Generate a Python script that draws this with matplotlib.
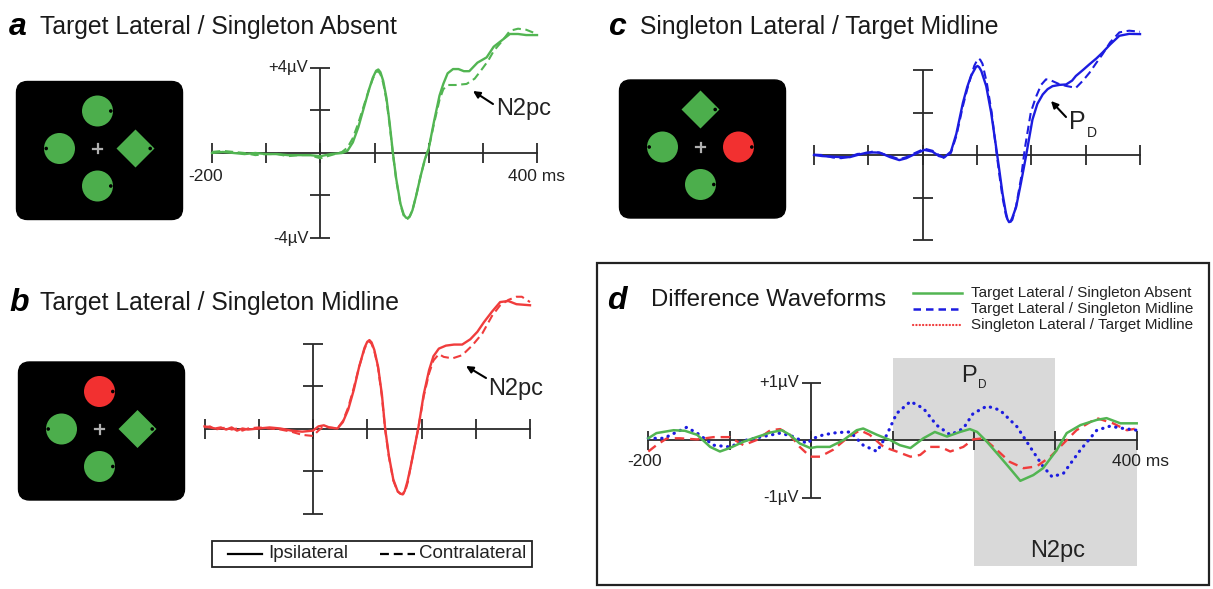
import numpy as np
import matplotlib.pyplot as plt
from matplotlib.patches import Circle, Polygon, FancyBboxPatch, Rectangle

plt.rcParams['font.family'] = ['Liberation Sans', 'DejaVu Sans']

W, H = 1213, 589

# ---- данные: время (мс) и амплитуда (мкВ) ----
# a: Target Lateral / Singleton Absent
t_a_ipsi = [-200, -180, -160, -140, -120, -100, -80, -60, -40, -20, 0, 20, 40, 50, 60, 70, 80, 90, 97, 103, 107,
            111, 116, 122, 128, 134, 140, 148, 154, 158, 161, 165, 170, 177, 185, 193, 200, 210, 220, 227, 235, 245, 255,
            265, 275, 290, 307, 320, 335, 350, 365, 380, 400]
a_ipsi = [0.0, 0.05, 0.0, -0.05, 0.0, -0.05, -0.05, -0.1, -0.1, -0.1, -0.15, -0.05, 0.0, 0.1, 0.5, 1.2, 2.1, 3.0, 3.55, 3.87, 3.93,
          3.8, 3.4, 2.6, 1.4, 0.0, -1.2, -2.4, -2.9, -3.04, -3.07, -2.98, -2.7, -2.0, -1.1, -0.3, 0.2, 1.5, 2.7, 3.25, 3.75, 3.95, 3.95,
          3.85, 3.85, 4.25, 4.5, 5.0, 5.3, 5.6, 5.6, 5.55, 5.55]
t_a_contra = [-200, -180, -160, -140, -120, -100, -80, -60, -40, -20, 0, 20, 40, 50, 60, 70, 80, 90, 97, 103, 107,
              111, 116, 122, 128, 134, 140, 148, 154, 158, 161, 165, 170, 177, 185, 193, 200, 210, 220, 227, 235, 250, 270,
              285, 300, 310, 320, 335, 350, 365, 380, 400]
a_contra = [0.05, 0.1, 0.05, 0.0, -0.1, -0.05, -0.05, -0.15, -0.1, -0.1, -0.25, -0.1, 0.05, 0.25, 0.7, 1.4, 2.2, 3.0, 3.5, 3.8, 3.85,
            3.7, 3.3, 2.5, 1.3, -0.05, -1.25, -2.45, -2.95, -3.08, -3.1, -3.0, -2.7, -2.0, -1.1, -0.3, 0.2, 1.4, 2.5, 3.0, 3.2, 3.2, 3.25,
            3.5, 4.0, 4.35, 4.8, 5.25, 5.75, 5.85, 5.8, 5.6]

# b: Target Lateral / Singleton Midline
t_b_ipsi = [-200, -190, -180, -170, -160, -150, -140, -130, -120, -100, -80, -60, -40, -20, 0, 10, 20, 30, 45, 55,
            65, 75, 85, 95, 100, 104, 108, 113, 120, 127, 133, 140, 148, 156, 161, 165, 169, 174, 180, 187, 194, 204, 214, 222,
            232, 245, 260, 275, 290, 303, 315, 330, 345, 360, 375, 400]
b_ipsi = [0.1, 0.05, 0.0, 0.05, -0.05, 0.05, -0.1, 0.0, -0.05, 0.0, 0.05, 0.0, -0.1, -0.15, -0.1, 0.1, 0.15, 0.05, 0.0, 0.3,
          0.9, 1.8, 2.9, 3.8, 4.08, 4.16, 4.05, 3.7, 2.9, 1.6, 0.0, -1.3, -2.4, -2.95, -3.07, -3.09, -2.95, -2.5, -1.8, -0.9, 0.0, 1.6, 2.75, 3.4,
          3.76, 3.9, 3.95, 3.95, 4.2, 4.55, 5.0, 5.5, 5.95, 6.0, 5.85, 5.8]
t_b_contra = [-200, -190, -180, -170, -160, -150, -140, -130, -120, -100, -80, -60, -40, -20, 0, 10, 20, 30, 45, 55,
              65, 75, 85, 95, 100, 104, 108, 113, 120, 127, 133, 140, 148, 156, 162, 166, 170, 175, 180, 187, 194, 204, 214, 222,
              232, 241, 257, 275, 294, 312, 330, 345, 360, 375, 385, 400]
b_contra = [0.05, 0.1, -0.05, 0.0, 0.05, -0.05, 0.0, -0.1, 0.0, 0.05, 0.0, -0.05, -0.15, -0.3, -0.35, -0.1, 0.1, 0.05, 0.0, 0.35,
            1.0, 1.9, 2.9, 3.75, 4.02, 4.1, 3.98, 3.65, 2.85, 1.5, -0.05, -1.35, -2.45, -2.97, -3.08, -3.1, -2.95, -2.5, -1.8, -0.9, 0.0, 1.5, 2.6, 3.2,
            3.5, 3.37, 3.3, 3.45, 3.92, 4.47, 5.3, 5.8, 6.05, 6.2, 6.2, 5.95]

# c: Singleton Lateral / Target Midline
t_c_ipsi = [-200, -185, -165, -150, -134, -120, -103, -90, -79, -60, -43, -30, -18, -5, 3, 18, 30, 40, 52, 62,
            74, 82, 89, 95, 98, 101, 104, 108, 117, 126, 135, 141, 147, 153, 156, 159, 162, 165, 172, 181, 190, 202, 211, 221,
            230, 239, 252, 264, 275, 282, 295, 307, 320, 331, 345, 362, 380, 400]
c_ipsi = [0.0, -0.05, -0.08, -0.1, -0.1, 0.0, 0.11, 0.12, 0.11, -0.1, -0.24, -0.15, 0.0, 0.15, 0.24, 0.16, -0.05, -0.11, 0.16, 1.0,
          2.45, 3.2, 3.72, 4.0, 4.14, 4.19, 4.13, 3.95, 3.24, 2.0, 0.4, -0.7, -1.82, -2.7, -3.02, -3.16, -3.12, -2.95, -2.45, -1.3, -0.08, 1.66, 2.4, 2.85,
          3.1, 3.24, 3.3, 3.32, 3.5, 3.72, 4.0, 4.27, 4.55, 4.82, 5.2, 5.61, 5.7, 5.69]
t_c_contra = [-200, -185, -165, -150, -134, -120, -103, -90, -79, -60, -43, -30, -18, -5, 3, 18, 30, 40, 52, 62,
              74, 82, 89, 95, 100, 103, 106, 110, 118, 127, 135, 141, 147, 153, 156, 159, 162, 165, 172, 181, 188, 199, 208, 218,
              227, 237, 250, 264, 282, 295, 307, 320, 331, 345, 362, 380, 400]
c_contra = [0.02, 0.0, -0.12, -0.15, -0.08, 0.05, 0.08, 0.18, 0.1, -0.05, -0.2, -0.1, 0.05, 0.2, 0.3, 0.2, 0.0, -0.15, 0.1, 0.9,
            2.3, 3.1, 3.7, 4.2, 4.45, 4.54, 4.48, 4.3, 3.4, 2.0, 0.3, -0.9, -2.0, -2.8, -3.05, -3.16, -3.14, -3.05, -2.4, -1.1, 0.3, 2.0, 2.7, 3.3,
            3.56, 3.5, 3.35, 3.25, 3.16, 3.5, 3.87, 4.35, 4.74, 5.3, 5.77, 5.85, 5.8]

# d: разностные волны
t_d_green = [-200, -190, -169, -155, -140, -124, -112, -100, -83, -67, -50, -36, -26, -14, -1, 7, 23, 40, 56, 64,
             81, 97, 109, 122, 138, 152, 167, 183, 195, 204, 216, 232, 244, 257, 273, 285, 302, 314, 331, 351,
             363, 380, 400]
d_green = [0.03, 0.12, 0.17, 0.16, 0.09, -0.12, -0.2, -0.14, -0.03, 0.05, 0.13, 0.17, 0.09, -0.06, -0.14, -0.12, -0.12, 0.0, 0.17, 0.2,
           0.09, 0.0, -0.09, -0.14, 0.03, 0.14, 0.06, 0.14, 0.19, 0.14, -0.03, -0.29, -0.49, -0.71, -0.61, -0.49, -0.17, 0.12, 0.26, 0.35,
           0.38, 0.29, 0.29]
t_d_red = [-200, -190, -177, -161, -140, -120, -100, -83, -67, -50, -38, -26, -14, -1, 11, 27, 44, 60, 72, 89,
           105, 122, 134, 146, 159, 171, 187, 199, 212, 228, 244, 261, 277, 294, 310, 326, 351, 371, 388, 400]
d_red = [-0.2, -0.09, 0.03, 0.03, 0.01, 0.05, 0.05, -0.09, 0.0, 0.17, 0.19, 0.09, -0.12, -0.29, -0.29, -0.17, 0.03, 0.17, 0.09, -0.12,
         -0.2, -0.29, -0.26, -0.12, -0.12, -0.2, -0.12, 0.01, 0.03, -0.17, -0.38, -0.49, -0.46, -0.29, -0.06, 0.17, 0.38, 0.29, 0.17, 0.2]
t_d_blue = [-200, -181, -153, -140, -120, -100, -79, -59, -38, -22, -5, 3, 15, 32, 48, 64, 81, 93, 105, 122,
            138, 154, 171, 187, 199, 216, 232, 253, 269, 285, 296, 310, 331, 351, 367, 384, 400]
d_blue = [0.03, 0.03, 0.22, 0.12, -0.09, -0.12, 0.0, 0.06, 0.12, 0.06, -0.06, 0.03, 0.09, 0.13, 0.14, -0.09, -0.2, 0.09, 0.46, 0.67,
          0.55, 0.26, 0.09, 0.2, 0.46, 0.59, 0.52, 0.23, -0.12, -0.46, -0.64, -0.58, -0.17, 0.17, 0.24, 0.2, 0.17]

# окна компонент на графике d: (начало, конец, низ, верх)
pd_window = (100, 300, 0.0, 1.43)
n2pc_window = (200, 400, -2.19, 0.0)

x_ticks = [-200, -100, 0, 100, 200, 300, 400]
y_ticks_erp = [-4, -2, 2, 4]
y_ticks_diff = [-1, 1]

legend_names = ['Target Lateral / Singleton Absent', 'Target Lateral / Singleton Midline',
                'Singleton Lateral / Target Midline']

# стимулы: (позиция, форма, цвет)
stim_a = [('top', 'circle', 'g'), ('left', 'circle', 'g'), ('right', 'diamond', 'g'), ('bottom', 'circle', 'g')]
stim_b = [('top', 'circle', 'r'), ('left', 'circle', 'g'), ('right', 'diamond', 'g'), ('bottom', 'circle', 'g')]
stim_c = [('top', 'diamond', 'g'), ('left', 'circle', 'g'), ('right', 'circle', 'r'), ('bottom', 'circle', 'g')]

GREEN = '#52b552'
RED = '#f03c3c'
BLUE = '#1c1ce0'
STIM_GREEN = '#4cae4c'
STIM_RED = '#f23030'
AX_COL = '#2a2a2a'

fig = plt.figure(figsize=(W / 100, H / 100), dpi=100)
bg = fig.add_axes([0, 0, 1, 1])
bg.set_xlim(0, W)
bg.set_ylim(H, 0)
bg.axis('off')


def erp_axes(xm200, x400, yzero, ppu, ylo, yhi):
    ytop = yzero - yhi * ppu
    ybot = yzero - ylo * ppu
    ax = fig.add_axes([xm200 / W, 1 - ybot / H, (x400 - xm200) / W, (ybot - ytop) / H])
    ax.set_xlim(-200, 400)
    ax.set_ylim(ylo, yhi)
    ax.axis('off')
    ppm = (x400 - xm200) / 600
    return ax, ppm


def draw_axes(ax, ppm, ppu, yticks, tick_px=10):
    kw = dict(color=AX_COL, lw=1.3, clip_on=False, zorder=2)
    ax.plot([-200, 400], [0, 0], **kw)
    ax.vlines(x_ticks, -tick_px / ppu, tick_px / ppu, **kw)
    ax.vlines(0, min(yticks), max(yticks), **kw)
    ax.hlines(yticks, -tick_px / ppm, tick_px / ppm, **kw)


def draw_stim(cx, cy, items):
    bg.add_patch(FancyBboxPatch((cx - 81, cy - 67), 166, 138, boxstyle='round,pad=0,rounding_size=11',
                                fc='black', ec='black'))
    offs = {'top': (0, -37.5), 'left': (-38, 0), 'right': (38, 0), 'bottom': (0, 37.5)}
    for pos, shape, col in items:
        dx, dy = offs[pos]
        x, y = cx + dx, cy + dy
        c = STIM_GREEN if col == 'g' else STIM_RED
        side = -1 if pos == 'left' else 1
        if shape == 'circle':
            bg.add_patch(Circle((x, y), 15.5, fc=c, ec='none'))
            bg.add_patch(Circle((x + side * 13.3, y), 1.8, fc='black', ec='none'))
        else:
            r = 19
            bg.add_patch(Polygon([(x, y - r), (x + r, y), (x, y + r), (x - r, y)], fc=c, ec='none'))
            bg.add_patch(Circle((x + side * 14.7, y), 1.8, fc='black', ec='none'))
    bg.plot([cx - 4.5, cx + 4.5], [cy, cy], color='#b0b0b0', lw=1.6)
    bg.plot([cx, cx], [cy - 4.5, cy + 4.5], color='#b0b0b0', lw=1.6)


def label_pd(ax, x, y, fs, sub_fs, dx, dy):
    ax.text(x, y, 'P', fontsize=fs, ha='left', va='baseline', color='#222')
    ax.text(x + dx, y + dy, 'D', fontsize=sub_fs, ha='left', va='baseline', color='#222')


# ---- заголовки ----
for lx, ly, letter, tx, title in [(9, 35, 'a', 40, 'Target Lateral / Singleton Absent'),
                                  (9, 311, 'b', 40, 'Target Lateral / Singleton Midline'),
                                  (608, 35, 'c', 640, 'Singleton Lateral / Target Midline')]:
    bg.text(lx, ly, letter, fontsize=23, fontweight='bold', fontstyle='italic', va='baseline')
    bg.text(tx, ly - 1, title, fontsize=17.8, va='baseline', color='#1a1a1a')

# ---- стимулы ----
draw_stim(97.5, 148.5, stim_a)
draw_stim(99.5, 429, stim_b)
draw_stim(700.5, 147, stim_c)

# ---- панели a, b, c ----
ppu = 21.25
panels = [((212, 537, 153), GREEN, t_a_ipsi, a_ipsi, t_a_contra, a_contra, True),
          ((204.5, 530, 428.5), RED, t_b_ipsi, b_ipsi, t_b_contra, b_contra, False),
          ((814, 1140, 155), BLUE, t_c_ipsi, c_ipsi, t_c_contra, c_contra, False)]
for (xm, xp, yz), col, ti, vi, tc, vc, labels in panels:
    ax, ppm = erp_axes(xm, xp, yz, ppu, -4.6, 6.6)
    draw_axes(ax, ppm, ppu, y_ticks_erp)
    ax.plot(ti, vi, color=col, lw=1.7, clip_on=False, zorder=3)
    ax.plot(tc, vc, color=col, lw=1.5, ls=(0, (4, 2.2)), clip_on=False, zorder=3)
    if labels:
        ax.annotate('+4µV', xy=(0, 4), xytext=(-12, 0), textcoords='offset pixels',
                    ha='right', va='center', fontsize=12, color='#222')
        ax.annotate('-4µV', xy=(0, -4), xytext=(-12, 0), textcoords='offset pixels',
                    ha='right', va='center', fontsize=12, color='#222')
        ax.annotate('-200', xy=(-200, 0), xytext=(-6, -24), textcoords='offset pixels',
                    ha='center', va='center', fontsize=12.5, color='#222')
        ax.annotate('400 ms', xy=(400, 0), xytext=(0, -24), textcoords='offset pixels',
                    ha='center', va='center', fontsize=12.5, color='#222')

# стрелки и подписи
arrow = dict(arrowstyle='-|>', color='black', lw=1.5, mutation_scale=10, shrinkA=0, shrinkB=0)
bg.annotate('', xy=(473, 91), xytext=(493, 104), arrowprops=arrow)
bg.text(496, 115, 'N2pc', fontsize=17, va='baseline', color='#222')
bg.annotate('', xy=(466, 366), xytext=(486, 378), arrowprops=arrow)
bg.text(488, 395, 'N2pc', fontsize=17, va='baseline', color='#222')
bg.annotate('', xy=(1051, 101), xytext=(1066, 117), arrowprops=arrow)
label_pd(bg, 1069, 129, 18, 10, 18, 8)

# легенда Ipsilateral / Contralateral
bg.add_patch(Rectangle((212, 541), 320, 26, fc='white', ec='#222', lw=1.3))
bg.plot([228, 262], [554, 554], color='black', lw=1.6)
bg.text(268, 554, 'Ipsilateral', fontsize=13.5, va='center', color='#222')
bg.plot([380, 415], [554, 554], color='black', lw=1.6, ls=(0, (4, 2.2)))
bg.text(419, 554, 'Contralateral', fontsize=13.5, va='center', color='#222')

# ---- панель d ----
bg.add_patch(Rectangle((597, 263), 612, 322, fc='none', ec='#222', lw=1.6))
bg.text(607, 309, 'd', fontsize=23, fontweight='bold', fontstyle='italic', va='baseline')
bg.text(651, 306.5, 'Difference Waveforms', fontsize=17.2, va='baseline', color='#1a1a1a')

axd, ppm_d = erp_axes(648.3, 1136.7, 440, 57.5, -2.4, 1.6)
for t0, t1, lo, hi in [pd_window, n2pc_window]:
    axd.add_patch(Rectangle((t0, lo), t1 - t0, hi - lo, fc='#d9d9d9', ec='none', zorder=0, clip_on=False))
draw_axes(axd, ppm_d, 57.5, y_ticks_diff, tick_px=9.5)
axd.plot(t_d_green, d_green, color=GREEN, lw=1.8, clip_on=False, zorder=4)
axd.plot(t_d_red, d_red, color=RED, lw=1.7, ls=(0, (4, 2.5)), clip_on=False, zorder=3)
axd.plot(t_d_blue, d_blue, color=BLUE, lw=2.3, ls=(0, (0.1, 2.0)), dash_capstyle='round',
         clip_on=False, zorder=3)
axd.annotate('+1µV', xy=(0, 1), xytext=(-12, 0), textcoords='offset pixels',
             ha='right', va='center', fontsize=12, color='#222')
axd.annotate('-1µV', xy=(0, -1), xytext=(-12, 0), textcoords='offset pixels',
             ha='right', va='center', fontsize=12, color='#222')
axd.annotate('-200', xy=(-200, 0), xytext=(-4, -22), textcoords='offset pixels',
             ha='center', va='center', fontsize=12.5, color='#222')
axd.annotate('400 ms', xy=(400, 0), xytext=(4, -22), textcoords='offset pixels',
             ha='center', va='center', fontsize=12.5, color='#222')

# подписи поверх серых окон
fg = fig.add_axes([0, 0, 1, 1])
fg.set_xlim(0, W)
fg.set_ylim(H, 0)
fg.axis('off')
fg.patch.set_alpha(0)
label_pd(fg, 961, 382, 17, 8.5, 17, 6)
fg.text(1058, 551, 'N2pc', fontsize=17, ha='center', va='center', color='#222')

# легенда d
styles = [dict(color=GREEN, lw=1.8), dict(color=BLUE, lw=1.8, ls=(0, (3, 2))),
          dict(color=RED, lw=1.6, ls=(0, (0.1, 1.4)), dash_capstyle='round')]
for i, (name, st) in enumerate(zip(legend_names, styles)):
    y = 292.5 + 16.3 * i
    bg.plot([913, 962], [y, y], **st)
    bg.text(971, y, name, fontsize=11, va='center', color='#222')

fig.savefig('out.png', dpi=100)
